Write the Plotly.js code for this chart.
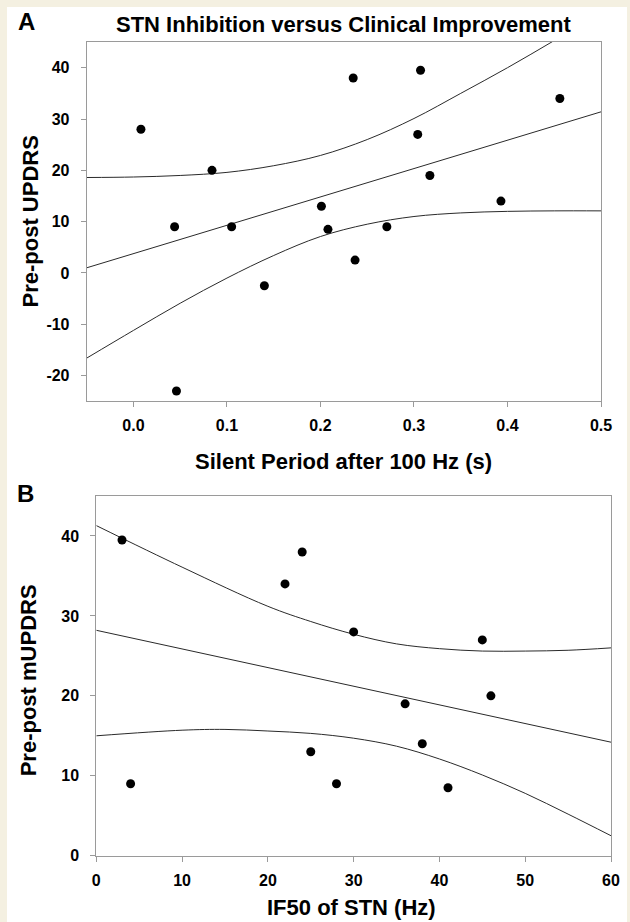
<!DOCTYPE html>
<html>
<head>
<meta charset="utf-8">
<script src="https://cdn.plot.ly/plotly-3.0.1.min.js"></script>
<style>
  html, body { margin: 0; padding: 0; background: #f4f0e1; }
  #chart { width: 630px; height: 922px; }
</style>
</head>
<body>
<div id="chart"></div>
<script>
// ---------- Panel A data ----------
const silentPeriod = [0.008, 0.044, 0.046, 0.084, 0.105, 0.140, 0.201, 0.208, 0.235, 0.237, 0.271, 0.304, 0.307, 0.317, 0.393, 0.456];
const updrsA       = [28, 9, -23, 20, 9, -2.5, 13, 8.5, 38, 2.5, 9, 27, 39.5, 19, 14, 34];
const fitAx = [-0.05, 0.5];
const fitAy = [1.0, 31.4];
const bandAx     = [-0.05, 0.0, 0.05, 0.10, 0.15, 0.20, 0.25, 0.30, 0.35, 0.40, 0.45, 0.50];
const bandAupper = [18.6, 18.7, 19.0, 19.6, 20.9, 22.9, 26.0, 30.1, 35.0, 40.0, 45.3, 50.8];
const bandAlowerX = [-0.05, 0.0, 0.05, 0.10, 0.15, 0.20, 0.25, 0.30, 0.35, 0.40, 0.45, 0.50];
const bandAlower  = [-16.6, -11.2, -5.9, -1.0, 3.4, 7.1, 9.5, 11.0, 11.7, 12.0, 12.1, 12.1];
const xTickValsA = [0.0, 0.1, 0.2, 0.3, 0.4, 0.5];
const xTickTextA = ['0.0', '0.1', '0.2', '0.3', '0.4', '0.5'];
const yTickValsA = [-20, -10, 0, 10, 20, 30, 40];
const yTickTextA = ['-20', '-10', '0', '10', '20', '30', '40'];

// ---------- Panel B data ----------
const if50   = [3, 4, 22, 24, 25, 28, 30, 36, 38, 41, 45, 46];
const updrsB = [39.5, 9, 34, 38, 13, 9, 28, 19, 14, 8.5, 27, 20];
const fitBx = [0, 60];
const fitBy = [28.2, 14.2];
const bandBx     = [0, 10, 20, 25, 30, 35, 40, 45, 50, 55, 60];
const bandBupper = [41.3, 36.1, 31.2, 29.3, 27.7, 26.5, 25.9, 25.6, 25.6, 25.7, 26.0];
const bandBlowerX = [0, 10, 15, 20, 25, 30, 35, 40, 45, 50, 55, 60];
const bandBlower  = [15.0, 15.7, 15.8, 15.6, 15.3, 14.7, 13.7, 12.1, 10.1, 7.8, 5.2, 2.5];
const xTickValsB = [0, 10, 20, 30, 40, 50, 60];
const xTickTextB = ['0', '10', '20', '30', '40', '50', '60'];
const yTickValsB = [0, 10, 20, 30, 40];
const yTickTextB = ['0', '10', '20', '30', '40'];

// ---------- Text ----------
const titleText = 'STN Inhibition versus Clinical Improvement';
const xTitleA = 'Silent Period after 100 Hz (s)';
const yTitleA = 'Pre-post UPDRS';
const xTitleB = 'IF50 of STN (Hz)';
const yTitleB = 'Pre-post mUPDRS';

const W = 630, H = 922;
const px = v => v / W;
const py = v => 1 - v / H;

const FONT = 'Liberation Sans, Arial, Helvetica, sans-serif';
const lineStyle = { color: '#2a2a2a', width: 1 };
const markerStyle = { color: '#000000', size: 9 };

const traces = [
  { x: bandAx, y: bandAupper, mode: 'lines', line: Object.assign({ shape: 'spline', smoothing: 1 }, lineStyle), xaxis: 'x', yaxis: 'y', hoverinfo: 'skip' },
  { x: bandAlowerX, y: bandAlower, mode: 'lines', line: Object.assign({ shape: 'spline', smoothing: 1 }, lineStyle), xaxis: 'x', yaxis: 'y', hoverinfo: 'skip' },
  { x: fitAx, y: fitAy, mode: 'lines', line: lineStyle, xaxis: 'x', yaxis: 'y' },
  { x: silentPeriod, y: updrsA, mode: 'markers', marker: markerStyle, xaxis: 'x', yaxis: 'y', cliponaxis: false },

  { x: bandBx, y: bandBupper, mode: 'lines', line: Object.assign({ shape: 'spline', smoothing: 1 }, lineStyle), xaxis: 'x2', yaxis: 'y2', hoverinfo: 'skip' },
  { x: bandBlowerX, y: bandBlower, mode: 'lines', line: Object.assign({ shape: 'spline', smoothing: 1 }, lineStyle), xaxis: 'x2', yaxis: 'y2', hoverinfo: 'skip' },
  { x: fitBx, y: fitBy, mode: 'lines', line: lineStyle, xaxis: 'x2', yaxis: 'y2' },
  { x: if50, y: updrsB, mode: 'markers', marker: markerStyle, xaxis: 'x2', yaxis: 'y2', cliponaxis: false }
];

const axisCommon = {
  showgrid: false, zeroline: false,
  showline: true, mirror: true, linecolor: '#9a9a9a', linewidth: 1,
  ticks: 'outside', ticklen: 5, tickcolor: '#9a9a9a', tickwidth: 1,
  tickfont: { family: FONT, size: 16, color: '#000', weight: 'bold' },
  tickmode: 'array',
  fixedrange: true
};

const layout = {
  width: W, height: H, autosize: false,
  margin: { l: 0, r: 0, t: 0, b: 0, pad: 0 },
  paper_bgcolor: '#f4f0e1',
  plot_bgcolor: '#ffffff',
  showlegend: false,
  xaxis: Object.assign({}, axisCommon, {
    domain: [px(86.7), px(601)], range: [-0.05, 0.5],
    tickvals: xTickValsA, ticktext: xTickTextA, anchor: 'y', ticklabelstandoff: 5
  }),
  yaxis: Object.assign({}, axisCommon, {
    domain: [py(400.7), py(41.7)], range: [-24.9, 45.07],
    tickvals: yTickValsA, ticktext: yTickTextA, anchor: 'x', ticklabelstandoff: 8
  }),
  xaxis2: Object.assign({}, axisCommon, {
    domain: [px(96.3), px(611)], range: [0, 60],
    tickvals: xTickValsB, ticktext: xTickTextB, anchor: 'y2', ticklabelstandoff: 5
  }),
  yaxis2: Object.assign({}, axisCommon, {
    domain: [py(855.7), py(496)], range: [0, 45],
    tickvals: yTickValsB, ticktext: yTickTextB, anchor: 'x2', ticklabelstandoff: 8
  }),
  shapes: [
    { type: 'rect', xref: 'paper', yref: 'paper', x0: px(7), x1: px(627), y0: 0, y1: py(7),
      fillcolor: '#ffffff', line: { width: 0 }, layer: 'below' }
  ],
  annotations: [
    { text: titleText, x: px(344), y: py(24.5), xref: 'paper', yref: 'paper', showarrow: false,
      xanchor: 'center', yanchor: 'middle', font: { family: FONT, size: 22, color: '#000', weight: 'bold' } },
    { text: 'A', x: px(26.3), y: py(21.7), xref: 'paper', yref: 'paper', showarrow: false,
      xanchor: 'center', yanchor: 'middle', font: { family: FONT, size: 24, color: '#000', weight: 'bold' } },
    { text: 'B', x: px(25), y: py(493.3), xref: 'paper', yref: 'paper', showarrow: false,
      xanchor: 'center', yanchor: 'middle', font: { family: FONT, size: 24, color: '#000', weight: 'bold' } },
    { text: xTitleA, x: px(343.5), y: py(461), xref: 'paper', yref: 'paper', showarrow: false,
      xanchor: 'center', yanchor: 'middle', font: { family: FONT, size: 22, color: '#000', weight: 'bold' } },
    { text: xTitleB, x: px(351.6), y: py(907), xref: 'paper', yref: 'paper', showarrow: false,
      xanchor: 'center', yanchor: 'middle', font: { family: FONT, size: 22, color: '#000', weight: 'bold' } },
    { text: yTitleA, x: px(30), y: py(221.5), xref: 'paper', yref: 'paper', showarrow: false, textangle: -90,
      xanchor: 'center', yanchor: 'middle', font: { family: FONT, size: 22, color: '#000', weight: 'bold' } },
    { text: yTitleB, x: px(28.5), y: py(680.8), xref: 'paper', yref: 'paper', showarrow: false, textangle: -90,
      xanchor: 'center', yanchor: 'middle', font: { family: FONT, size: 22, color: '#000', weight: 'bold' } }
  ]
};

Plotly.newPlot('chart', traces, layout, { staticPlot: true, displayModeBar: false });
</script>
</body>
</html>
